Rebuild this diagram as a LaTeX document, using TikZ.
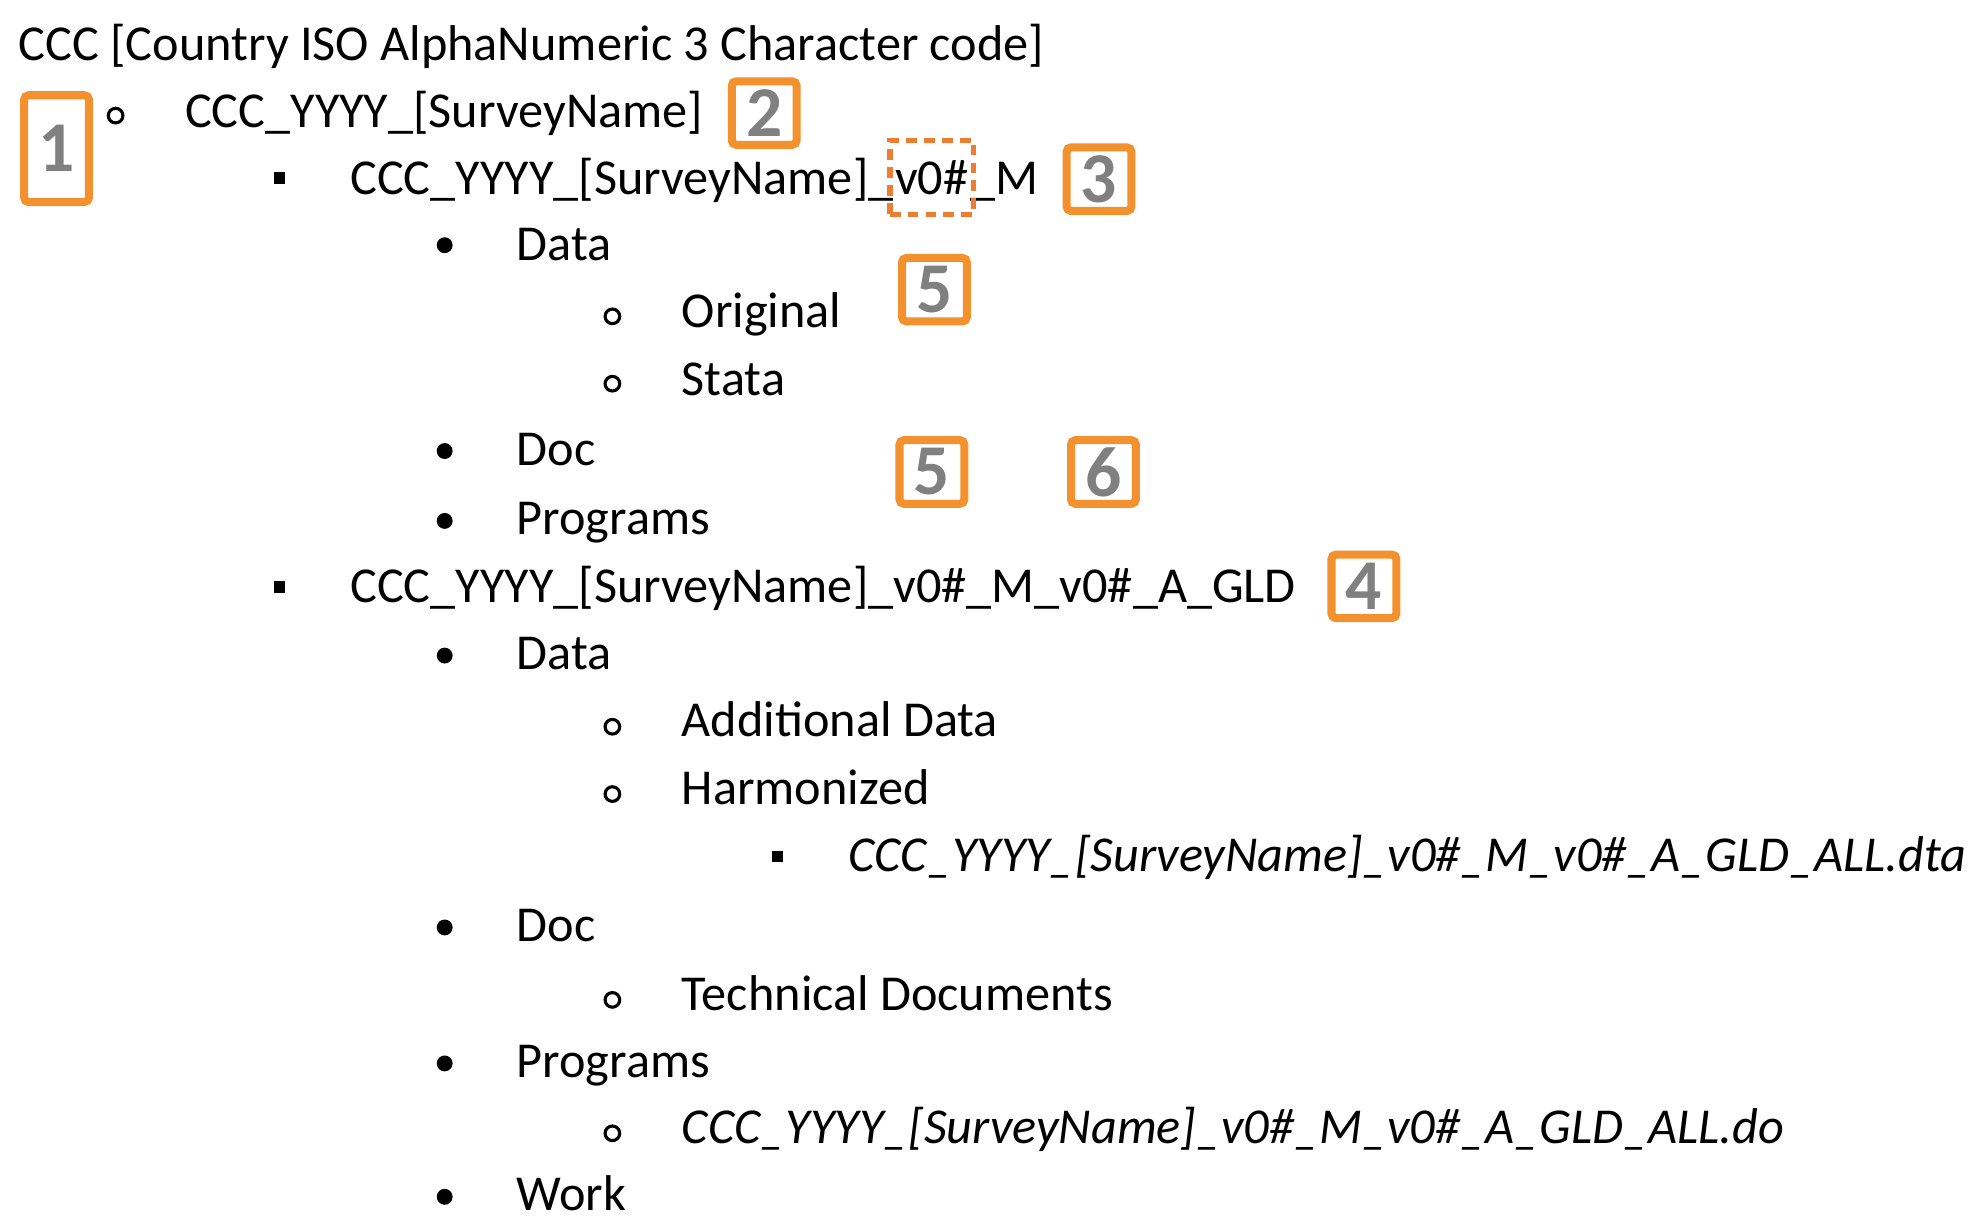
\documentclass[tikz,border=0pt]{standalone}
\usepackage{fontspec}
\setmainfont{Carlito}
\usetikzlibrary{positioning}

\definecolor{boxorange}{RGB}{243,145,46}
\definecolor{dashorange}{RGB}{237,125,49}
\definecolor{numgray}{RGB}{128,128,128}

\begin{document}
\begin{tikzpicture}[
    x=0.01cm, y=-0.01cm,
    font=\fontsize{11.25pt}{13pt}\selectfont
]

    % Styles for the list entries, bullets and the numbered call-outs
    \tikzset{
        entry/.style={anchor=base west, inner sep=0pt},
        ringbullet/.style={draw, circle, line width=0.7pt, minimum size=0.115cm, inner sep=0pt},
        roundbullet/.style={fill, circle, minimum size=0.125cm, inner sep=0pt},
        squarebullet/.style={fill, rectangle, minimum size=0.09cm, inner sep=0pt},
        numbox/.style={
            draw=boxorange, 
            line width=1.8pt, 
            rounded corners=1pt,
            minimum width=0.51cm, 
            minimum height=0.50cm, 
            inner sep=0pt,
            text=numgray, 
            font=\fontsize{16pt}{16pt}\selectfont\bfseries
        },
        dashbox/.style={
            draw=dashorange, 
            line width=1.2pt, 
            dash pattern=on 2.4pt off 1.6pt,
            minimum width=0.66cm, 
            minimum height=0.58cm, 
            inner sep=0pt
        }
    }

    \useasboundingbox (0,0) rectangle (1560,964);

    % Root folder
    \node[entry] (root) at (14, 48) {CCC [Country ISO AlphaNumeric 3 Character code]};

    % Survey folder
    \node[ringbullet] (b1) at (91, 91) {};
    \node[entry] (survey) at (145, 100) {CCC\_YYYY\_[SurveyName]};

    % Master version
    \node[squarebullet] (b2) at (220, 140) {};
    \node[entry] (mast) at (275, 153) {CCC\_YYYY\_[SurveyName]\_};
    \node[entry] (mastv) at (mast.base east) {v0\#};
    \node[entry] (mastm) at (mastv.base east) {\_M};
    \node[dashbox] (vbox) at (mastv.center) {};

    \node[roundbullet] (b3) at (350, 193) {};
    \node[entry] (mdata) at (406, 205) {Data};
    \node[ringbullet] (b4) at (482, 249) {};
    \node[entry] (morig) at (536, 258) {Original};
    \node[ringbullet] (b5) at (482, 302) {};
    \node[entry] (mstata) at (536, 311) {Stata};
    \node[roundbullet] (b6) at (350, 355) {};
    \node[entry] (mdoc) at (406, 366) {Doc};
    \node[roundbullet] (b7) at (350, 410) {};
    \node[entry] (mprog) at (406, 421) {Programs};

    % Harmonized version
    \node[squarebullet] (b8) at (220, 462) {};
    \node[entry] (harm) at (275, 474) {CCC\_YYYY\_[SurveyName]\_v0\#\_M\_v0\#\_A\_GLD};

    \node[roundbullet] (b9) at (350, 516) {};
    \node[entry] (hdata) at (406, 527) {Data};
    \node[ringbullet] (b10) at (482, 572) {};
    \node[entry] (hadd) at (536, 580) {Additional Data};
    \node[ringbullet] (b11) at (482, 625) {};
    \node[entry] (hharm) at (536, 633) {Harmonized};
    \node[squarebullet] (b12) at (612, 674) {};
    \node[entry] (hdta) at (667, 686) {\itshape CCC\_YYYY\_[SurveyName]\_v0\#\_M\_v0\#\_A\_GLD\_ALL.dta};
    \node[roundbullet] (b13) at (350, 730) {};
    \node[entry] (hdoc) at (406, 741) {Doc};
    \node[ringbullet] (b14) at (482, 787) {};
    \node[entry] (htech) at (536, 795) {Technical Documents};
    \node[roundbullet] (b15) at (350, 837) {};
    \node[entry] (hprog) at (406, 848) {Programs};
    \node[ringbullet] (b16) at (482, 892) {};
    \node[entry] (hdo) at (536, 900) {\itshape CCC\_YYYY\_[SurveyName]\_v0\#\_M\_v0\#\_A\_GLD\_ALL.do};
    \node[roundbullet] (b17) at (350, 942) {};
    \node[entry] (hwork) at (406, 953) {Work};

    % Numbered call-outs
    \node[numbox, minimum height=0.84cm] (n1) at (44.5, 117) {1};
    \node[numbox] (n2) at (601.5, 89) {2};
    \node[numbox] (n3) at (865, 141) {3};
    \node[numbox] (n5a) at (735.5, 228) {5};
    \node[numbox] (n5b) at (733.5, 371.5) {5};
    \node[numbox] (n6) at (868.5, 371.5) {6};
    \node[numbox] (n4) at (1073.5, 461.5) {4};

\end{tikzpicture}
\end{document}
